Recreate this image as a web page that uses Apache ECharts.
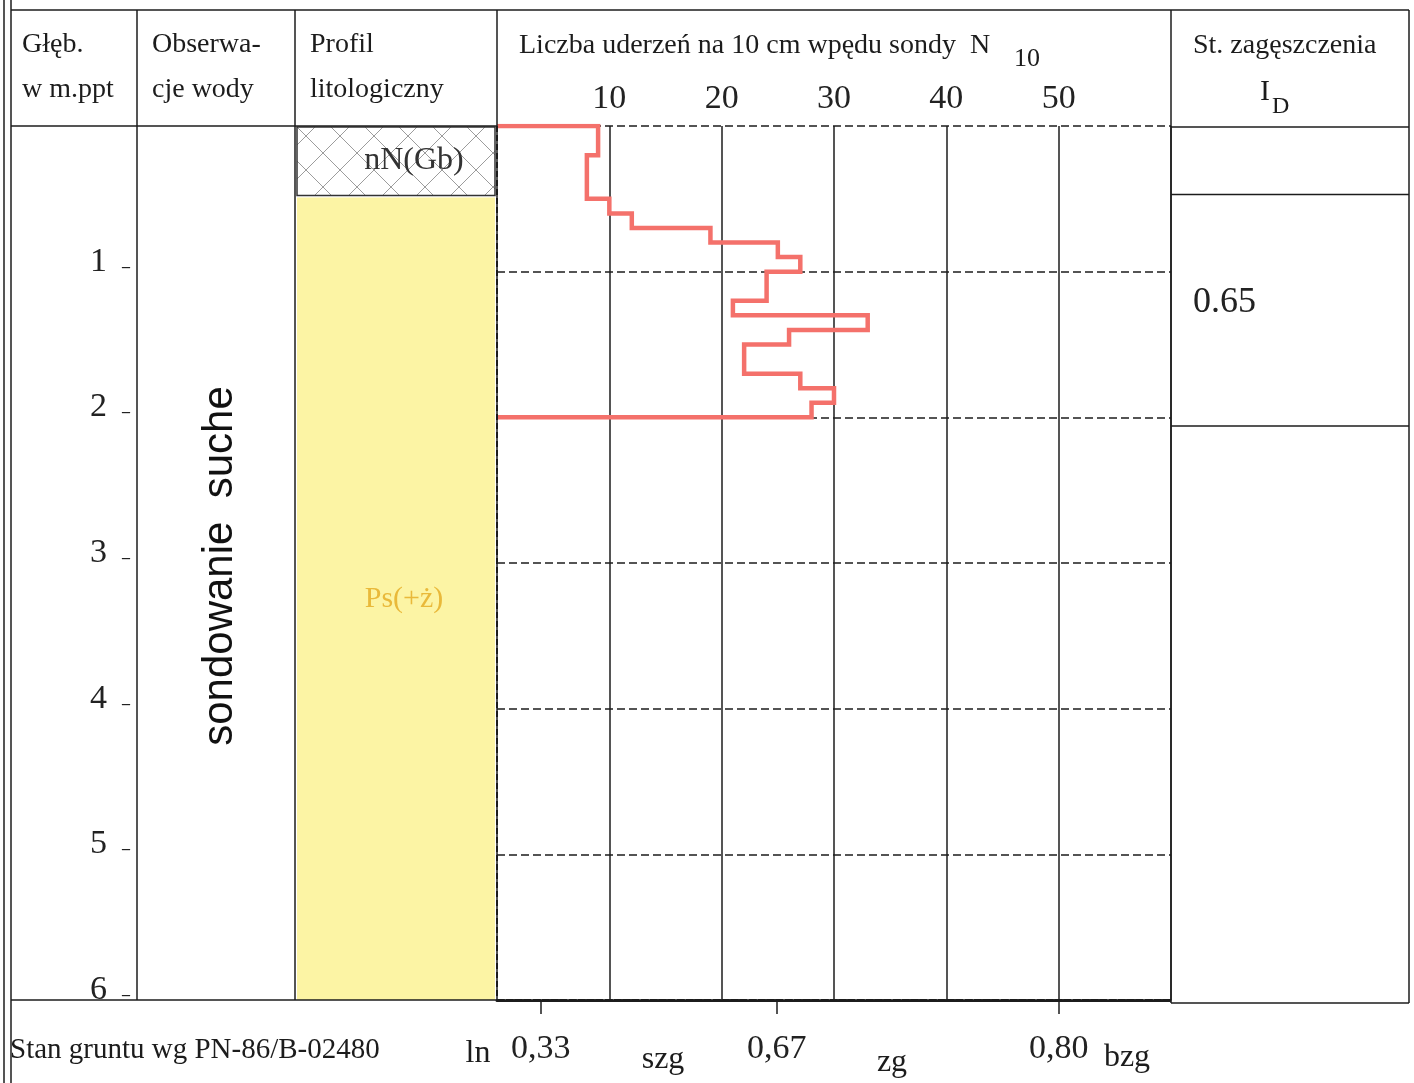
<!DOCTYPE html>
<html>
<head>
<meta charset="utf-8">
<script src="https://cdn.jsdelivr.net/npm/echarts@6.0.0/dist/echarts.min.js"></script>
<style>
  html, body { margin: 0; padding: 0; background: #fff; }
  #chart { width: 1414px; height: 1083px; }
</style>
</head>
<body>
<div id="chart"></div>
<script>
// sounding: top of each 10 cm interval (m) and blows N10 in it
const depthTop = [0.0, 0.1, 0.2, 0.3, 0.4, 0.5, 0.6, 0.7, 0.8, 0.9,
                  1.0, 1.1, 1.2, 1.3, 1.4, 1.5, 1.6, 1.7, 1.8, 1.9];
const blows = [9, 9, 8, 8, 8, 10, 12, 19, 25, 27,
               24, 24, 21, 33, 26, 22, 22, 27, 30, 28];
const stepDepth = 0.1;

const nTicks = [10, 20, 30, 40, 50];
const depthTicks = [1, 2, 3, 4, 5, 6];

// lithology layers [from, to]
const layerFrom = [0, 0.49];
const layerTo = [0.47, 6];
const layerNames = ['nN(Gb)', 'Ps(+ż)'];

// density index layers
const idFrom = [0.47];
const idTo = [2.06];
const idValues = ['0.65'];

// I_D thresholds placed on the N10 scale
const idThresholdN = [3.9, 24.9, 50];
const idThresholdLabels = ['0,33', '0,67', '0,80'];

const serif = 'Liberation Serif';
const ink = '#1c1c1c';

// blow-count outline as a closed step path
const outline = [[0, depthTop[0]]];
blows.forEach((b, i) => {
  outline.push([b, depthTop[i]]);
  outline.push([b, +(depthTop[i] + stepDepth).toFixed(2)]);
});
outline.push([0, +(depthTop[depthTop.length - 1] + stepDepth).toFixed(2)]);

// cross hatch for made ground
const tile = document.createElement('canvas');
tile.width = 34; tile.height = 34;
const tc = tile.getContext('2d');
tc.strokeStyle = '#9c9c9c';
tc.lineWidth = 1;
tc.beginPath();
tc.moveTo(0, 0); tc.lineTo(34, 34);
tc.moveTo(34, 0); tc.lineTo(0, 34);
tc.stroke();

const chart = echarts.init(document.getElementById('chart'), null, { renderer: 'canvas' });

const L = (x1, y1, x2, y2, extra) => ({
  type: 'line', silent: true, z: 50,
  shape: { x1, y1, x2, y2 },
  style: Object.assign({ stroke: ink, lineWidth: 1.5 }, extra || {})
});
const T = (text, x, y, size, extra) => ({
  type: 'text', silent: true, z: 60,
  style: Object.assign({ text, x, y, font: `${size}px "${serif}"`, fill: ink, verticalAlign: 'top' }, extra || {})
});

const option = {
  animation: false,
  backgroundColor: '#fff',
  grid: [
    { left: 497, right: 243, top: 126, bottom: 83 },
    { left: 297, right: 1414 - 495, top: 126, bottom: 83 },
    { left: 1171, right: 5, top: 126, bottom: 83 }
  ],
  xAxis: [
    {
      gridIndex: 0, type: 'value', position: 'top', min: 0, max: 60, interval: 10,
      axisLine: { show: false }, axisTick: { show: false },
      axisLabel: {
        formatter: v => nTicks.includes(v) ? String(v) : '',
        fontFamily: serif, fontSize: 34, color: '#222', margin: 10
      },
      splitLine: { show: true, lineStyle: { color: ink, width: 1.5 } }
    },
    {
      gridIndex: 0, type: 'value', position: 'bottom', min: 0, max: 60,
      axisLine: { show: true, lineStyle: { color: ink, width: 3, type: [7, 2] } },
      axisTick: { show: true, customValues: idThresholdN, length: 14, lineStyle: { color: ink, width: 1.5 } },
      axisLabel: {
        customValues: idThresholdN,
        formatter: v => idThresholdLabels[idThresholdN.indexOf(v)] || '',
        fontFamily: serif, fontSize: 34, color: '#222', margin: 32
      },
      splitLine: { show: false }
    },
    { gridIndex: 1, type: 'value', min: 0, max: 1, show: false },
    { gridIndex: 2, type: 'value', min: 0, max: 1, show: false }
  ],
  yAxis: [
    {
      gridIndex: 0, type: 'value', inverse: true, min: 0, max: 6, interval: 1,
      position: 'left', offset: 367,
      axisLine: { show: false },
      axisTick: { show: false },
      axisLabel: {
        formatter: v => depthTicks.includes(v) ? `{n|${v}}{d|_}` : '',
        margin: 0, verticalAlign: 'bottom', lineHeight: 20,
        rich: {
          n: { fontFamily: serif, fontSize: 34, color: '#222', lineHeight: 20 },
          d: { fontFamily: serif, fontSize: 16, color: '#222', lineHeight: 20, fontWeight: 'bold', padding: [0, 0, 0, 15] }
        }
      },
      splitLine: { show: true, lineStyle: { color: ink, width: 1.5, type: [8, 4] } }
    },
    { gridIndex: 1, type: 'value', inverse: true, min: 0, max: 6, show: false },
    { gridIndex: 2, type: 'value', inverse: true, min: 0, max: 6, show: false }
  ],
  series: [
    {
      type: 'custom', xAxisIndex: 2, yAxisIndex: 1, z: 2,
      data: layerFrom.map((f, i) => [f, layerTo[i], i]),
      renderItem: (params, api) => {
        const i = api.value(2);
        const a = api.coord([0, api.value(0)]);
        const b = api.coord([1, api.value(1)]);
        const hatch = i === 0;
        return {
          type: 'group',
          children: [
            {
              type: 'rect',
              shape: { x: a[0], y: a[1] + (hatch ? 1 : 0), width: b[0] - a[0], height: b[1] - a[1] },
              style: hatch
                ? { fill: { image: tile, repeat: 'repeat' }, stroke: '#333', lineWidth: 1.5 }
                : { fill: '#fcf4a4', stroke: null }
            },
            {
              type: 'text',
              style: {
                text: layerNames[i],
                x: (a[0] + b[0]) / 2 + (hatch ? 18 : 8),
                y: (a[1] + b[1]) / 2,
                align: 'center', verticalAlign: 'middle',
                font: `${hatch ? 32 : 30}px "${serif}"`,
                fill: hatch ? '#333' : '#e9b93a'
              }
            }
          ]
        };
      }
    },
    {
      type: 'custom', xAxisIndex: 3, yAxisIndex: 2, z: 2,
      data: idFrom.map((f, i) => [f, idTo[i], i]),
      renderItem: (params, api) => {
        const i = api.value(2);
        const a = api.coord([0, api.value(0)]);
        const b = api.coord([1, api.value(1)]);
        return {
          type: 'group',
          children: [
            { type: 'line', shape: { x1: a[0], y1: a[1], x2: b[0], y2: a[1] }, style: { stroke: ink, lineWidth: 1.5 } },
            { type: 'line', shape: { x1: a[0], y1: b[1], x2: b[0], y2: b[1] }, style: { stroke: ink, lineWidth: 1.5 } },
            {
              type: 'text',
              style: {
                text: idValues[i], x: a[0] + 22, y: (a[1] + b[1]) / 2 - 8,
                align: 'left', verticalAlign: 'middle',
                font: `36px "${serif}"`, fill: '#222'
              }
            }
          ]
        };
      }
    },
    {
      name: 'N10', type: 'line', xAxisIndex: 0, yAxisIndex: 0, z: 20,
      data: outline, symbol: 'none',
      lineStyle: { color: '#f4716b', width: 4.5, join: 'miter' }
    }
  ],
  graphic: [
    // frame
    L(4, 0, 4, 1083), L(11, 0, 11, 1083),
    L(11, 10, 1409, 10), L(1409, 10, 1409, 1003),
    L(137, 10, 137, 1000), L(295, 10, 295, 1000),
    L(497, 10, 497, 126), L(497, 126, 497, 1000, { lineDash: [6, 3], lineWidth: 2 }),
    L(1171, 10, 1171, 1003),
    L(11, 126, 497, 126), L(1171, 127, 1409, 127),
    L(11, 1000, 497, 1000), L(1171, 1003, 1409, 1003),
    // header
    T('Głęb.', 22, 31, 28), T('w m.ppt', 22, 76, 28),
    T('Obserwa-', 152, 31, 28), T('cje wody', 152, 76, 28),
    T('Profil', 310, 31, 28), T('litologiczny', 310, 76, 28),
    T('Liczba uderzeń na 10 cm wpędu sondy  N', 519, 32, 28),
    T('10', 1014, 46, 26),
    T('St. zagęszczenia', 1193, 32, 28),
    T('I', 1260, 77, 30), T('D', 1272, 95, 24),
    // water observation column
    {
      type: 'text', silent: true, z: 60, rotation: Math.PI / 2, x: 220, y: 566,
      style: { text: 'sondowanie  suche', x: 0, y: 0, align: 'center', verticalAlign: 'middle',
               font: '42px "Liberation Sans"', fill: '#111' }
    },
    // footer
    T('Stan gruntu wg PN-86/B-02480', 10, 1050, 29, { verticalAlign: 'middle' }),
    T('ln', 478, 1054, 32, { align: 'center', verticalAlign: 'middle' }),
    T('szg', 663, 1060, 32, { align: 'center', verticalAlign: 'middle' }),
    T('zg', 892, 1063, 32, { align: 'center', verticalAlign: 'middle' }),
    T('bzg', 1127, 1058, 32, { align: 'center', verticalAlign: 'middle' })
  ]
};

chart.setOption(option);
window.addEventListener('resize', () => chart.resize());
</script>
</body>
</html>
